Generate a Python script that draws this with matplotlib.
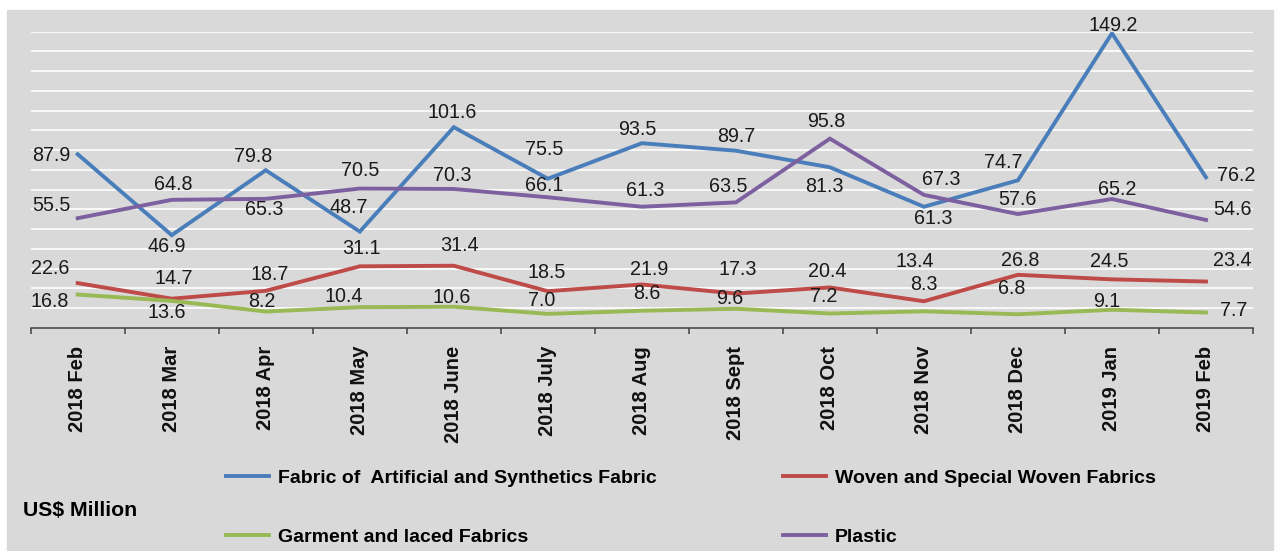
import matplotlib
matplotlib.use("Agg")
import matplotlib.pyplot as plt
from matplotlib.patches import Rectangle

months = ["2018 Feb", "2018 Mar", "2018 Apr", "2018 May", "2018 June", "2018 July",
          "2018 Aug", "2018 Sept", "2018 Oct", "2018 Nov", "2018 Dec", "2019 Jan", "2019 Feb"]

artificial = [87.9, 46.9, 79.8, 48.7, 101.6, 75.5, 93.5, 89.7, 81.3, 61.3, 74.7, 149.2, 76.2]
woven = [22.6, 14.7, 18.7, 31.1, 31.4, 18.5, 21.9, 17.3, 20.4, 13.4, 26.8, 24.5, 23.4]
garment = [16.8, 13.6, 8.2, 10.4, 10.6, 7.0, 8.6, 9.6, 7.2, 8.3, 6.8, 9.1, 7.7]
plastic = [55.5, 64.8, 65.3, 70.5, 70.3, 66.1, 61.3, 63.5, 95.8, 67.3, 57.6, 65.2, 54.6]

names = ["Fabric of  Artificial and Synthetics Fabric", "Woven and Special Woven Fabrics",
         "Garment and laced Fabrics", "Plastic"]

# label offsets in pixels (dx, dy with y pointing down)
art_off = [(-26, 1), (-5, 11.5), (-13, -13.5), (-11, -24), (-2, -14.5), (-4, -29), (-5, -14),
           (0, -14), (-6, 19), (9, 12), (-15, -18), (1, -8), (30, -2)]
woven_off = [(-28, -15), (2, -20), (4, -16), (2, -18), (6, -20), (-1, -18.5), (7, -15),
             (2, -23.6), (-3, -16), (-9, -40), (2, -14), (-3, -18), (26, -21)]
garm_off = [(-28, 7), (-5, 12), (-4, -10), (-16, -10.5), (-2, -9.5), (-6, -13), (5, -17),
            (-6, -10.5), (-6, -17), (0, -27), (-6, -26), (-5, -8), (28, -2)]
plas_off = [(-26, -13), (2, -15.6), (-2, 11), (0, -17.6), (-2, -13), (-4, -12), (3, -16),
            (-8, -16), (-4, -17), (17, -15), (-1, -15), (5, -10), (26, -10)]

colors = ["#4A7EBB", "#BE4B48", "#98B954", "#7D60A0"]
series = [artificial, woven, garment, plastic]
offsets = [art_off, woven_off, garm_off, plas_off]

W, H = 1277, 551
fig = plt.figure(figsize=(W / 100, H / 100), dpi=100)
fig.patches.append(Rectangle((7 / W, 0), (1273 - 7) / W, (H - 10) / H,
                             transform=fig.transFigure, color="#d9d9d9", zorder=-10))

ax = fig.add_axes([30.7 / W, 1 - 327.7 / H, (1253 - 30.7) / W, (327.7 - 31.7) / H])
ax.patch.set_visible(False)

x = list(range(len(months)))
lines = []
for vals, c, name in zip(series, colors, names):
    ln, = ax.plot(x, vals, color=c, lw=2.8, label=name, solid_joinstyle="miter", zorder=3)
    lines.append(ln)

for vals, offs in zip(series, offsets):
    for i, v in enumerate(vals):
        dx, dy = offs[i]
        ax.annotate(f"{v:.1f}", (i, v), xytext=(dx, -dy), textcoords="offset pixels",
                    ha="center", va="center", fontsize=14.2, color="#1a1a1a",
                    family="Liberation Sans", annotation_clip=False, zorder=4)

ax.set_xlim(-0.5, len(months) - 0.5)
ax.set_ylim(0, 150)
ax.set_yticks(range(10, 151, 10))
ax.yaxis.grid(True, color="white", lw=1.2)
ax.set_axisbelow(True)
ax.tick_params(axis="y", length=0, labelleft=False)

ax.set_xticks(x)
ax.set_xticklabels(months, rotation=90, fontsize=14.5, fontweight="bold",
                   family="Liberation Sans", va="top", color="#111111")
ax.set_xticks([i - 0.5 for i in range(len(months) + 1)], minor=True)
ax.tick_params(axis="x", which="major", length=0, pad=13)
ax.tick_params(axis="x", which="minor", length=4.5, width=1.1, color="#404040", direction="out")

for s in ["top", "right", "left"]:
    ax.spines[s].set_visible(False)
ax.spines["bottom"].set_color("#404040")
ax.spines["bottom"].set_linewidth(1.1)

order = [lines[0], lines[2], lines[1], lines[3]]
fig.legend(order, [l.get_label() for l in order], ncol=2, loc="upper left",
           bbox_to_anchor=(226 / W, 1 - 469 / H), frameon=False,
           borderpad=0, borderaxespad=0,
           prop={"family": "Liberation Sans", "weight": "bold", "size": 14},
           handlelength=2.2, handletextpad=0.46, columnspacing=6.5, labelspacing=2.14)

fig.text(23 / W, 1 - 510 / H, "US$ Million", fontsize=15.3, fontweight="bold",
         family="Liberation Sans", va="center", ha="left")

fig.savefig("out.png", dpi=100)
